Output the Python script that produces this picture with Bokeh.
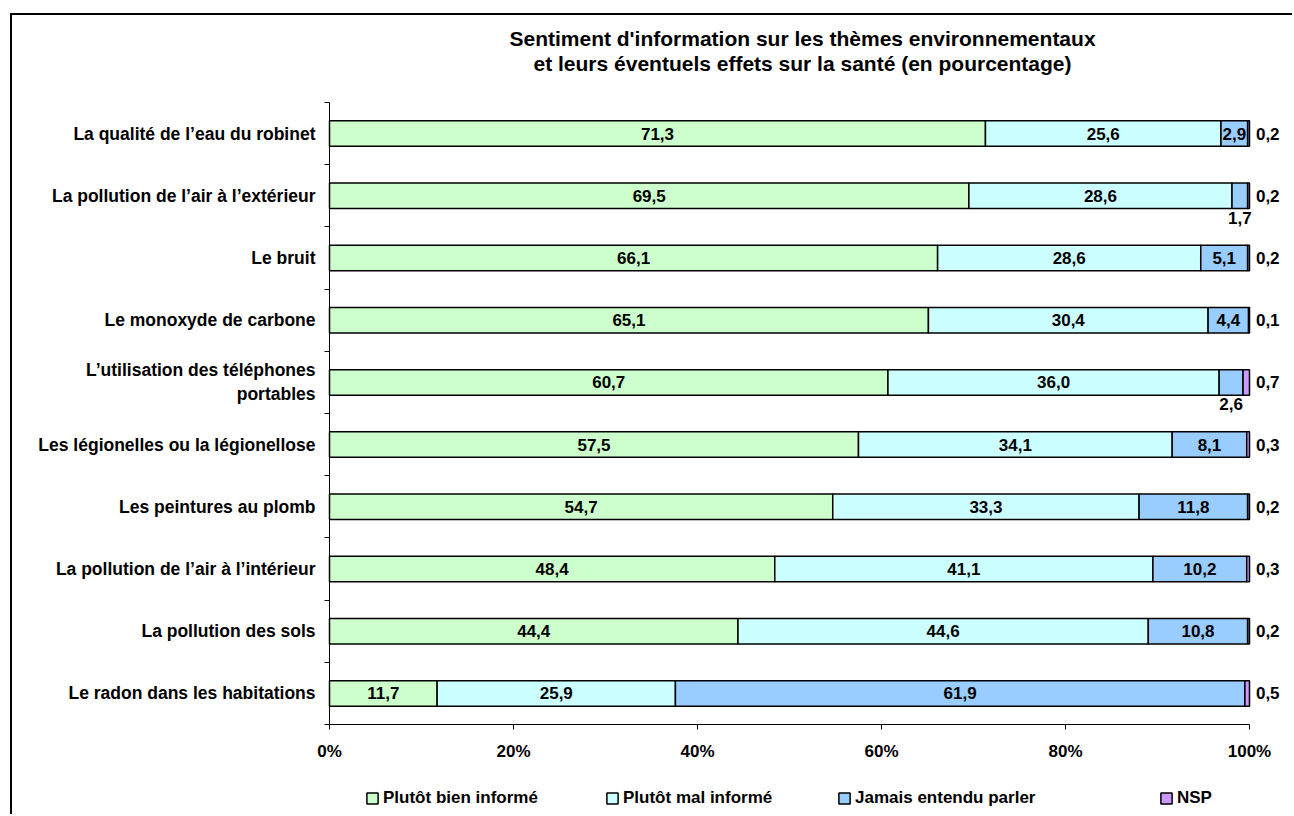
from bokeh.plotting import figure
from bokeh.models import (Range1d, FixedTicker, Legend, LegendItem, Label,
                          ColumnDataSource)
from bokeh.core.properties import value
from bokeh.embed import file_html
from bokeh.resources import INLINE

# ---- data (top to bottom as in the chart) ----
categories = [
    "La qualité de l\u2019eau du robinet",
    "La pollution de l\u2019air à l\u2019extérieur",
    "Le bruit",
    "Le monoxyde de carbone",
    "L\u2019utilisation des téléphones\nportables",
    "Les légionelles ou la légionellose",
    "Les peintures au plomb",
    "La pollution de l\u2019air à l\u2019intérieur",
    "La pollution des sols",
    "Le radon dans les habitations",
]
bien_informe = [71.3, 69.5, 66.1, 65.1, 60.7, 57.5, 54.7, 48.4, 44.4, 11.7]
mal_informe = [25.6, 28.6, 28.6, 30.4, 36.0, 34.1, 33.3, 41.1, 44.6, 25.9]
jamais_entendu = [2.9, 1.7, 5.1, 4.4, 2.6, 8.1, 11.8, 10.2, 10.8, 61.9]
nsp = [0.2, 0.2, 0.2, 0.1, 0.7, 0.3, 0.2, 0.3, 0.2, 0.5]
series_names = ["Plutôt bien informé", "Plutôt mal informé",
                "Jamais entendu parler", "NSP"]
x_ticks = [0, 20, 40, 60, 80, 100]
x_tick_labels = ["0%", "20%", "40%", "60%", "80%", "100%"]
title_lines = ["Sentiment d'information sur les thèmes environnementaux",
               "et leurs éventuels effets sur la santé (en pourcentage)"]

colors = ["#CCFFCC", "#CCFFFF", "#99CCFF", "#CC99FF"]
FONT = "Liberation Sans"
FS = "17px"

n = len(categories)
ypos = [n - 0.5 - i for i in range(n)]
series = [bien_informe, mal_informe, jamais_entendu, nsp]

# window geometry (pixels in the 1294x816 page)
WIN_W, WIN_H = 1294, 816
OX, OY = 12, 15                      # canvas origin inside the outer frame
left_px, right100_px, top_px, bottom_px = 329, 1249, 102, 724
px_per_pct = (right100_px - left_px) / 100.0
px_per_cat = (bottom_px - top_px) / n
x_start = -(left_px - OX) / px_per_pct
x_end = (WIN_W - left_px) / px_per_pct
y_end = n + (top_px - OY) / px_per_cat
y_start = -(WIN_H - bottom_px) / px_per_cat
CW, CH = WIN_W - OX, WIN_H - OY

def wy(py):
    """window pixel row -> data y"""
    return n + (top_px - py) / px_per_cat

p = figure(width=CW, height=CH, output_backend="svg", toolbar_location=None,
           title=None,
           x_range=Range1d(x_start, x_end), y_range=Range1d(y_start, y_end),
           min_border_left=0, min_border_right=0,
           min_border_top=0, min_border_bottom=0)
p.styles = {"margin-left": f"{OX - 2}px", "margin-top": f"{OY - 2}px",
            "border-left": "2px solid black", "border-top": "2px solid black"}
p.outline_line_color = None
p.xgrid.visible = False
p.ygrid.visible = False
p.background_fill_color = "white"
p.border_fill_color = "white"

# ---- stacked bars ----
renderers = []
lefts = [0.0] * n
for vals, col in zip(series, colors):
    rights = [l + v for l, v in zip(lefts, vals)]
    src = ColumnDataSource(dict(y=ypos, left=list(lefts), right=rights))
    r = p.hbar(y="y", left="left", right="right", height=0.41, source=src,
               fill_color=col, line_color="black", line_width=1.5)
    renderers.append(r)
    lefts = rights

# ---- bar labels ----
def fmt(v):
    return f"{v:.1f}".replace(".", ",")

in_x, in_y, in_t = [], [], []
below_x, below_y, below_t = [], [], []
right_x, right_y, right_t = [], [], []
for i in range(n):
    start = 0.0
    for k, vals in enumerate(series):
        v = vals[i]
        if k == 3:
            right_x.append(100.7)
            right_y.append(ypos[i])
            right_t.append(fmt(v))
        elif v < 2.8:
            below_x.append(start + v / 2)
            below_y.append(ypos[i] - 0.35)
            below_t.append(fmt(v))
        else:
            in_x.append(start + v / 2)
            in_y.append(ypos[i])
            in_t.append(fmt(v))
        start += v

common = dict(text_font=value(FONT), text_font_style="bold",
              text_font_size=FS, text_color="black",
              text_baseline="middle")
p.text(x=in_x, y=in_y, text=in_t, text_align="center", **common)
p.text(x=below_x, y=below_y, text=below_t, text_align="center", **common)
p.text(x=right_x, y=right_y, text=right_t, text_align="left", **common)

# ---- axes ----
xa = p.xaxis[0]
xa.fixed_location = 0
xa.ticker = FixedTicker(ticks=x_ticks, minor_ticks=[])
xa.major_label_overrides = {t: l for t, l in zip(x_ticks, x_tick_labels)}
xa.bounds = (0, 100)
xa.major_tick_out = 5
xa.major_tick_in = 0
xa.minor_tick_out = 0
xa.minor_tick_in = 0
xa.axis_line_color = "black"
xa.major_tick_line_color = "black"
xa.major_label_text_font = FONT
xa.major_label_text_font_style = "bold"
xa.major_label_text_font_size = FS
xa.major_label_text_color = "black"
xa.major_label_standoff = 12

ya = p.yaxis[0]
ya.fixed_location = 0
ya.ticker = FixedTicker(ticks=ypos, minor_ticks=[float(b) for b in range(n + 1)])
ya.major_label_overrides = {y: c for y, c in zip(ypos, categories)}
ya.bounds = (0, n)
ya.major_tick_out = 0
ya.major_tick_in = 0
ya.minor_tick_out = 5
ya.minor_tick_in = 0
ya.axis_line_color = "black"
ya.minor_tick_line_color = "black"
ya.major_label_text_font = FONT
ya.major_label_text_font_style = "bold"
ya.major_label_text_font_size = "17.5px"
ya.major_label_text_color = "black"
ya.major_label_standoff = 9

# ---- title (two centred lines) ----
title_center_x = (802 - left_px) / px_per_pct
for line, py in zip(title_lines, [38, 63]):
    p.add_layout(Label(x=title_center_x, y=wy(py), text=line,
                       text_align="center", text_baseline="middle",
                       text_font=FONT, text_font_style="bold",
                       text_font_size="21px", text_color="black"))

# ---- legend (one entry per series, placed along the bottom) ----
leg_x = [366, 606, 838, 1160]
for r, name, lx in zip(renderers, series_names, leg_x):
    lg = Legend(items=[LegendItem(label=name, renderers=[r])],
                location=(lx - OX - 1, 8),
                orientation="horizontal", padding=0, margin=0,
                glyph_width=14, glyph_height=14, label_standoff=4,
                label_text_font=FONT, label_text_font_style="bold",
                label_text_font_size=FS, label_text_color="black",
                label_height=17,
                background_fill_alpha=0, border_line_color=None)
    p.add_layout(lg, "center")

open("out.html", "w").write(file_html(p, INLINE))
